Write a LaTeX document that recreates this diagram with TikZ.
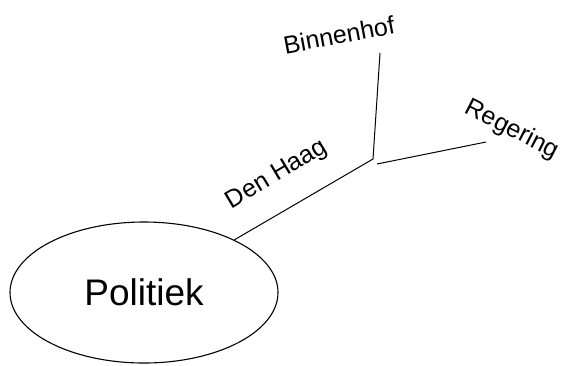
\documentclass[tikz,border=0pt]{standalone}
\usepackage{fontspec}
\setmainfont{Liberation Sans}
\usetikzlibrary{shapes.geometric}

\begin{document}
\begin{tikzpicture}[x=1pt,y=-1pt,
    tak/.style={line width=1pt},
    woord/.style={font=\fontsize{25}{29}\selectfont, inner sep=0pt}
]
\useasboundingbox (0,0) rectangle (564,365);

% Centre
\node[ellipse, draw, line width=1.1pt, minimum width=268pt, minimum height=141pt,
      font=\fontsize{37}{42}\selectfont] (politiek) at (144,292.5){Politiek};

% Branch points
\coordinate (knoop) at (373,159);
\coordinate (knoopb) at (377,164);
\coordinate (binnenhof) at (380,53);
\coordinate (regering) at (486,142);

\draw[tak] (knoop) -- (politiek);
\draw[tak] (knoop) -- (binnenhof);
\draw[tak] (knoopb) -- (regering);

% Labels
\node[woord, rotate=31]  (denhaag) at (277,175){Den Haag};
\node[woord, rotate=10.5] (binnenhoflabel) at (339,35){Binnenhof};
\node[woord, rotate=-27] (regeringlabel) at (512,130){Regering};

\end{tikzpicture}
\end{document}
